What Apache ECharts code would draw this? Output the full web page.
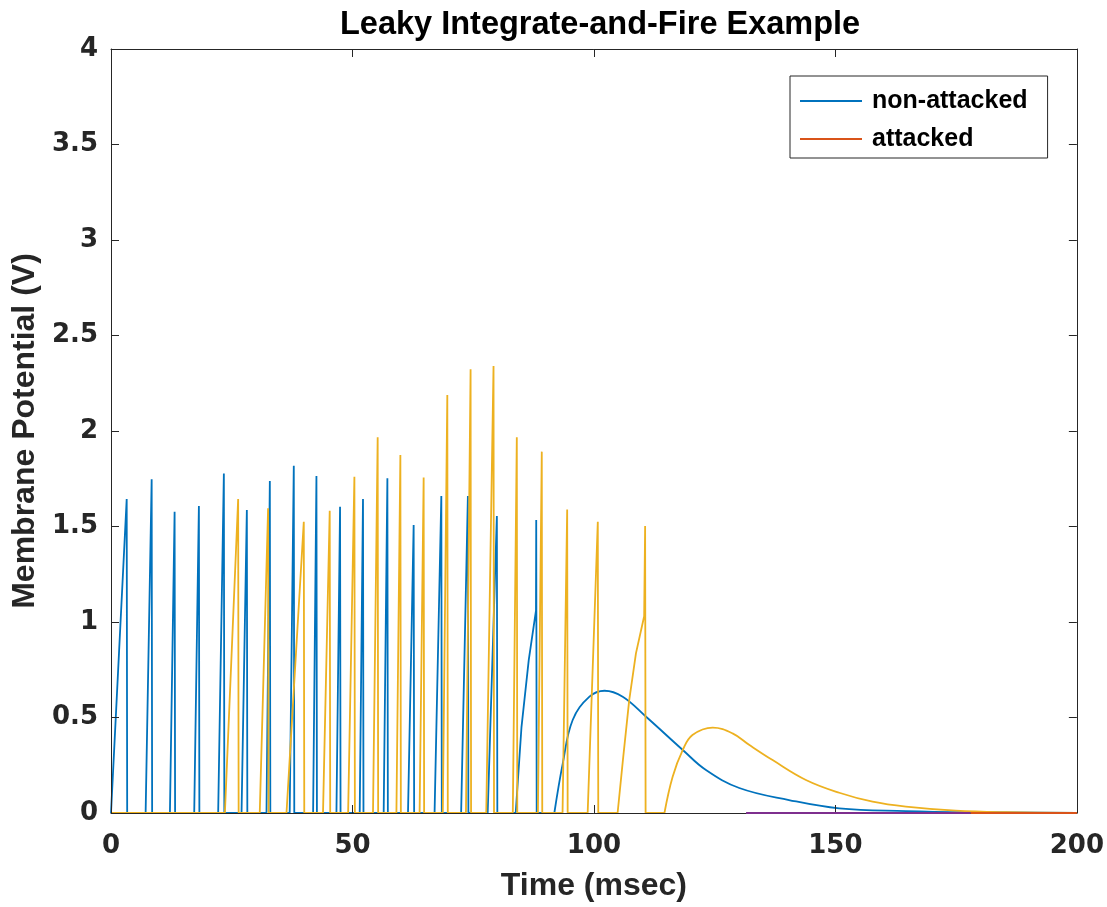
<!DOCTYPE html>
<html>
<head>
<meta charset="utf-8">
<script src="https://cdn.jsdelivr.net/npm/echarts@6/dist/echarts.min.js"></script>
<style>
html,body{margin:0;padding:0;background:#fff;}
#chart{width:1107px;height:907px;}
</style>
</head>
<body>
<div id="chart"></div>
<script>
// ---- data ----
const xTicks = [0, 50, 100, 150, 200];
const yTicks = [0, 0.5, 1, 1.5, 2, 2.5, 3, 3.5, 4];

// non-attacked (blue) spikes: ramp start time, spike time (ms), spike peak (V)
const blueSpikeStart = [0, 7.17, 12.2, 17.23, 22.19, 27.03, 32.2, 37.0, 41.85, 46.68, 51.5, 56.46, 61.5, 67.0, 72.5, 78.0];
const blueSpikeTime  = [3.25, 8.42, 13.17, 18.2, 23.37, 28.13, 32.89, 37.85, 42.54, 47.43, 52.18, 57.23, 62.67, 68.4, 73.9, 79.9];
const blueSpikePeak  = [1.644, 1.747, 1.577, 1.607, 1.778, 1.586, 1.738, 1.818, 1.764, 1.604, 1.644, 1.752, 1.508, 1.66, 1.66, 1.555];
// last curved ramp + spike
const blueLastSpike = [[83.8,0],[85.0,0.45],[86.5,0.8],[88.0,1.06],[88.05,1.534],[88.15,0],[91.8,0]];
// sub-threshold bump and decay
const blueBump = [[91.8,0],[93.55,0.26],[95.6,0.487],[99.07,0.609],[102.2,0.64],[105.96,0.609],[110.8,0.504],[118.4,0.33],[123.2,0.225],[130.1,0.131],[140.4,0.068],[150.8,0.024],[164.6,0.01],[178.3,0.004],[200,0.001]];

// attacked (yellow) spikes
const yellowSpikeStart = [23.58, 30.8, 36.34, 43.9, 49.1, 54.25, 59.1, 63.9, 68.7, 73.5, 77.7, 83.2, 88.4, 93.5, 98.7];
const yellowSpikeTime  = [26.33, 32.53, 39.92, 45.29, 50.4, 55.22, 59.92, 64.74, 69.64, 74.46, 79.21, 84.03, 89.2, 94.46, 100.8];
const yellowSpikePeak  = [1.644, 1.595, 1.525, 1.583, 1.76, 1.967, 1.874, 1.756, 2.188, 2.323, 2.34, 1.967, 1.892, 1.589, 1.525];
const yellowLastSpike = [[104.9,0],[106.0,0.277],[107.3,0.59],[108.7,0.836],[110.4,1.03],[110.6,1.503],[110.7,0],[114.6,0]];
const yellowBump = [[114.6,0],[116.3,0.19],[118.4,0.33],[120.4,0.408],[124.6,0.447],[128.7,0.417],[132.2,0.356],[137,0.277],[143.9,0.173],[150.8,0.106],[157.7,0.059],[164.6,0.033],[174.9,0.012],[185.2,0.004],[200,0.001]];

// zero-level traces visible along the bottom
const purpleZero = [[131.5,0],[178,0]];
const redZero = [[178,0],[200,0]];

// ---- build line data ----
function spikes(start, time, peak, late, t0) {
  const d = [];
  if (t0 !== undefined) d.push([t0, 0]);
  for (let i = 0; i < time.length; i++) {
    d.push([start[i], 0]);
    d.push([time[i], peak[i]]);
    d.push([time[i] + 0.1, 0]);
  }
  return d.concat(late);
}
const blueData = spikes(blueSpikeStart, blueSpikeTime, blueSpikePeak, blueLastSpike);
const yellowData = spikes(yellowSpikeStart, yellowSpikeTime, yellowSpikePeak, yellowLastSpike, 0);

const FONT = '"Liberation Sans", Arial, Helvetica, sans-serif';
const TICKFONT = '"DejaVu Sans", "Liberation Sans", sans-serif';
const AX = '#262626';
const BLUE = '#0072BD', RED = '#D95319', YEL = '#EDB120', PUR = '#7E2F8E';

const chart = echarts.init(document.getElementById('chart'), null, {renderer: 'canvas'});
function axisBase(extra) {
  return Object.assign({
    type: 'value', min: 0,
    axisLine: {show: true, onZero: false, lineStyle: {color: AX, width: 1}},
    axisTick: {show: true, inside: true, length: 8, lineStyle: {color: AX}},
    splitLine: {show: false}, z: 5
  }, extra);
}
const lineSeries = (name, data, color, z, smooth) => ({
  name, type: 'line', data, showSymbol: false, symbol: 'none', smooth: smooth || false,
  lineStyle: {color, width: 1.8}, itemStyle: {color}, z, emphasis: {disabled: true}
});
chart.setOption({
  animation: false,
  backgroundColor: '#ffffff',
  title: {
    text: 'Leaky Integrate-and-Fire Example',
    left: 335, top: 4,
    textStyle: {fontFamily: FONT, fontWeight: 'bold', fontSize: 32.5, color: '#000'}
  },
  grid: {left: 111, right: 29, top: 49, bottom: 94, containLabel: false},
  legend: {
    data: [{name: 'non-attacked', icon: 'rect'}, {name: 'attacked', icon: 'rect'}],
    orient: 'vertical',
    left: 790, top: 76,
    padding: [12, 20, 6, 10],
    itemGap: 12,
    itemWidth: 62, itemHeight: 2,
    backgroundColor: '#fff',
    borderColor: AX, borderWidth: 1,
    textStyle: {fontFamily: FONT, fontWeight: 'bold', fontSize: 25, color: '#000', lineHeight: 26, padding: [0,0,0,5]}
  },
  xAxis: [
    axisBase({
      max: 200, interval: 50, position: 'bottom',
      name: 'Time (msec)', nameLocation: 'middle', nameGap: 57,
      nameTextStyle: {fontFamily: FONT, fontWeight: 'bold', fontSize: 32, color: '#262626'},
      axisLabel: {fontFamily: TICKFONT, fontWeight: 'bold', fontSize: 26, color: '#262626', margin: 20,
        formatter: v => xTicks.indexOf(v) >= 0 ? String(v) : ''}
    }),
    axisBase({max: 200, interval: 50, position: 'top', axisLabel: {show: false}})
  ],
  yAxis: [
    axisBase({
      max: 4, interval: 0.5, position: 'left',
      name: 'Membrane Potential (V)', nameLocation: 'middle', nameGap: 65,
      nameTextStyle: {fontFamily: FONT, fontWeight: 'bold', fontSize: 32, color: '#262626'},
      axisLabel: {fontFamily: TICKFONT, fontWeight: 'bold', fontSize: 26, color: '#262626', margin: 13,
        formatter: v => yTicks.indexOf(v) >= 0 ? String(v) : ''}
    }),
    axisBase({max: 4, interval: 0.5, position: 'right', axisLabel: {show: false}})
  ],
  series: [
    lineSeries('non-attacked', blueData, BLUE, 2),
    lineSeries('non-attacked', blueBump, BLUE, 2, 0.4),
    lineSeries('attacked', redZero, RED, 7),
    lineSeries('attacked-yellow', yellowData, YEL, 3),
    lineSeries('attacked-yellow', yellowBump, YEL, 3, 0.4),
    lineSeries('zero', purpleZero, PUR, 6)
  ]
});
</script>
</body>
</html>
